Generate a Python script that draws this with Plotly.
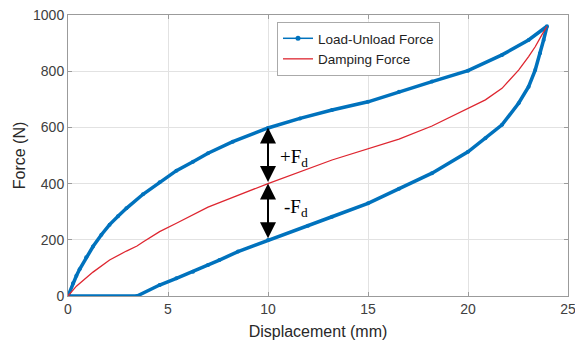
import plotly.graph_objects as go

# ---- data ----
load_x = [0, 0.25, 0.42, 0.58, 0.91, 1.25, 1.67, 2.08, 2.5, 2.92, 3.75, 4.58, 5.42, 6.25, 7.0, 8.24, 10, 11.6, 13.2, 15, 16.55, 18.2, 20.0, 21.7, 23.03, 23.95]
load_F = [0, 45, 72, 95, 138, 176, 218, 254, 284, 312, 362, 405, 446, 478, 508, 549, 598, 632, 662, 691, 727, 763, 802, 858, 911, 960]

unload_x = [23.95, 23.78, 23.6, 23.36, 23.03, 22.53, 21.7, 20.87, 20.0, 18.2, 16.55, 15, 13.2, 12, 10, 8.5, 7.57, 7.0, 6.25, 5.42, 4.58, 3.45, 0]
unload_F = [960, 911, 864, 804, 745, 686, 609, 561, 513, 437, 382, 330, 282, 250, 199, 158, 128, 110, 86, 63, 39, 0, 0]

damp_x = [0, 0.42, 1.25, 2.08, 2.92, 3.45, 3.75, 4.58, 5.42, 6.25, 7.0, 8.24, 10, 13.2, 15, 16.55, 18.2, 20.0, 20.87, 21.7, 22.53, 23.03, 23.36, 23.7, 23.95]
damp_F = [0, 35, 85, 128, 160, 178, 192, 229, 259, 288, 316, 351, 400, 484, 524, 558, 605, 666, 698, 739, 804, 852, 887, 930, 960]

x_ticks = [0, 5, 10, 15, 20, 25]
y_ticks = [0, 200, 400, 600, 800, 1000]

arrow_x = 10
arrow_levels = [600, 400, 200]
label_pos = [(11.3, 491, "+F<sub>d</sub>"), (11.4, 312, "-F<sub>d</sub>")]

loop_x = load_x + unload_x[1:]
loop_F = load_F + unload_F[1:]

BLUE = "rgb(0,114,189)"
RED = "rgb(222,38,48)"
SANS = "Arial, Liberation Sans, Helvetica, sans-serif"

fig = go.Figure()
fig.add_trace(go.Scatter(
    x=loop_x, y=loop_F, mode="lines+markers", name="Load-Unload Force",
    line=dict(color=BLUE, width=3.5),
    marker=dict(color=BLUE, size=4),
    showlegend=False,
))
# legend entry styled like the reference (thin line with dot)
fig.add_trace(go.Scatter(
    x=[None], y=[None], mode="lines+markers", name="Load-Unload Force",
    line=dict(color=BLUE, width=1.5), marker=dict(color=BLUE, size=5),
))
fig.add_trace(go.Scatter(
    x=damp_x, y=damp_F, mode="lines", name="Damping Force",
    line=dict(color=RED, width=1.3),
))

# double-headed arrows
for top, bot in zip(arrow_levels[:-1], arrow_levels[1:]):
    fig.add_annotation(
        x=arrow_x, y=top, ax=arrow_x, ay=bot, xref="x", yref="y", axref="x", ayref="y",
        showarrow=True, arrowhead=2, startarrowhead=2, arrowside="end+start",
        arrowsize=1.6, startarrowsize=1.6, arrowwidth=2, arrowcolor="black",
        standoff=0, startstandoff=0, text="",
    )
for lx, ly, txt in label_pos:
    fig.add_annotation(
        x=lx, y=ly, xref="x", yref="y", text=txt, showarrow=False,
        font=dict(family="Times New Roman, Liberation Serif, serif", size=19, color="black"),
    )

axis_common = dict(
    showline=True, mirror="ticks", linecolor="rgb(155,155,155)", linewidth=1,
    ticks="inside", ticklen=4, tickcolor="rgb(155,155,155)",
    showgrid=True, gridcolor="rgb(226,226,226)", gridwidth=1, zeroline=False,
    tickfont=dict(family=SANS, size=14, color="rgb(64,64,64)"),
    ticklabeloverflow="allow",
)

fig.update_layout(
    width=575, height=344,
    margin=dict(l=68, r=7, t=15, b=48),
    paper_bgcolor="white", plot_bgcolor="white",
    xaxis=dict(range=[0, 25], tickvals=x_ticks, **axis_common, automargin=False,
               title=dict(text="Displacement (mm)", standoff=10,
                          font=dict(family=SANS, size=16, color="rgb(40,40,40)"))),
    yaxis=dict(range=[0, 1000], tickvals=y_ticks, **axis_common, automargin=True,
               title=dict(text="Force (N)", standoff=3,
                          font=dict(family=SANS, size=16, color="rgb(40,40,40)"))),
    legend=dict(x=0.418, y=0.975, xanchor="left", yanchor="top",
                bgcolor="white", bordercolor="rgb(170,170,170)", borderwidth=1,
                font=dict(family=SANS, size=13.5, color="rgb(30,30,30)"),
                tracegroupgap=0, itemwidth=30),
    showlegend=True,
)

fig.write_html("out.html", config={"displayModeBar": False},
               post_script="document.body.style.margin='0';document.body.style.overflow='hidden';")
